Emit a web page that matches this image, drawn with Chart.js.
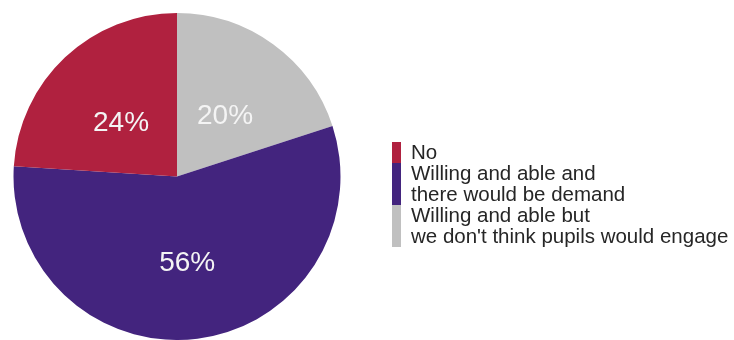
<!DOCTYPE html>
<html>
<head>
<meta charset="utf-8">
<script src="https://cdn.jsdelivr.net/npm/chart.js@4/dist/chart.umd.min.js"></script>
<style>
  html, body { margin: 0; padding: 0; background: #fff; }
  #wrap { width: 734px; height: 340px; }
</style>
</head>
<body>
<div id="wrap"><canvas id="pieChart" width="734" height="340"></canvas></div>
<script>
const categories = [
    ['Willing and able but', "we don't think pupils would engage"],
    ['Willing and able and', 'there would be demand'],
    ['No']
];
const shares = [20, 56, 24];
const sliceColors = ['#c0c0c0', '#43247e', '#b0213f'];

// legend order runs bottom-up from the slice order
const legendOrder = [2, 1, 0];

const FONT = '"Liberation Sans", Arial, sans-serif';

// percentage text in the middle of each slice
const sliceLabels = {
    id: 'sliceLabels',
    afterDatasetsDraw(chart) {
        const ctx = chart.ctx;
        const meta = chart.getDatasetMeta(0);
        ctx.save();
        ctx.font = '28px ' + FONT;
        ctx.fillStyle = '#f4f4f4';
        ctx.textAlign = 'center';
        ctx.textBaseline = 'middle';
        meta.data.forEach((arc, i) => {
            const p = arc.getCenterPoint();
            ctx.fillText(chart.data.datasets[0].data[i] + '%', p.x, p.y + 6);
        });
        ctx.restore();
    }
};

// stacked colour bars with wrapped labels on the right
const sideLegend = {
    id: 'sideLegend',
    afterDraw(chart) {
        const ctx = chart.ctx;
        const ds = chart.data.datasets[0];
        const x = 392, barW = 9, textX = 411, lineH = 21;
        let y = 142;
        ctx.save();
        ctx.font = '20.5px ' + FONT;
        ctx.textBaseline = 'middle';
        legendOrder.forEach(i => {
            const lines = chart.data.labels[i];
            const h = lines.length * lineH;
            ctx.fillStyle = ds.backgroundColor[i];
            ctx.fillRect(x, y, barW, h);
            ctx.fillStyle = '#262626';
            lines.forEach((t, k) => ctx.fillText(t, textX, y + lineH * k + lineH / 2 + 1));
            y += h;
        });
        ctx.restore();
    }
};

new Chart(document.getElementById('pieChart'), {
    type: 'pie',
    data: {
        labels: categories,
        datasets: [{
            data: shares,
            backgroundColor: sliceColors,
            borderWidth: 0
        }]
    },
    options: {
        responsive: false,
        animation: false,
        layout: {
            padding: { left: 13, top: 13, right: 393, bottom: -1 }
        },
        plugins: {
            legend: { display: false },
            tooltip: { enabled: false }
        }
    },
    plugins: [sliceLabels, sideLegend]
});
</script>
</body>
</html>
